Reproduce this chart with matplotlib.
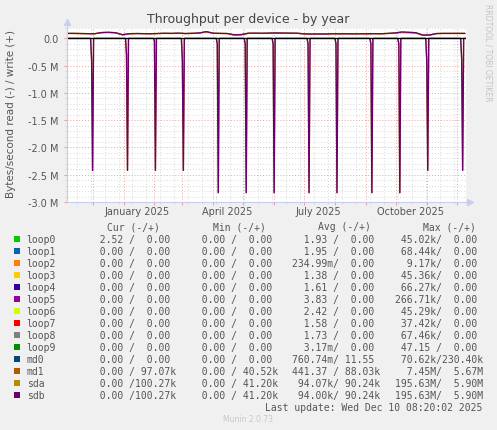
import pandas as pd
import matplotlib
matplotlib.use('Agg')
import matplotlib.pyplot as plt
import matplotlib.dates as mdates
import matplotlib.transforms as mtransforms
from matplotlib.patches import Rectangle
from matplotlib.ticker import MultipleLocator, FuncFormatter, FixedLocator, NullFormatter

W, H = 497, 431

t_start = pd.Timestamp('2024-11-05 08:20')
t_end = pd.Timestamp('2025-12-10 08:20')

# monthly raid-check read bursts on sda/sdb (bytes/s, daily average)
spike_dates = ['2024-12-01', '2025-01-05', '2025-02-02', '2025-03-02', '2025-04-06',
               '2025-05-04', '2025-06-01', '2025-07-06', '2025-08-03', '2025-09-07',
               '2025-10-05', '2025-11-02', '2025-12-07']
spike_depth = [2.42e6, 2.42e6, 2.42e6, 2.42e6, 2.83e6, 2.83e6, 2.83e6,
               2.83e6, 2.83e6, 2.83e6, 2.83e6, 2.42e6, 2.42e6]
spike_pre = [0.40e6, 0.30e6, 0.05e6, 0.40e6, 0.10e6, 0.10e6, 0.10e6,
             0.10e6, 0.10e6, 0.10e6, 0.10e6, 0.41e6, 0.38e6]

# weekly write throughput (kB/s)
write_weeks = pd.date_range('2024-11-05', periods=58, freq='7D')
sdb_write_k = [92, 92, 90, 88, 86, 108, 112, 105, 68, 86,
               90, 88, 86, 90, 94, 92, 96, 90, 93, 100,
               125, 95, 92, 90, 66, 70, 95, 96, 94, 97,
               100, 98, 96, 95, 84, 80, 82, 80, 86, 85,
               86, 84, 86, 85, 88, 86, 92, 100, 118, 112,
               105, 62, 64, 90, 92, 92, 92, 92]
md1_write_k = [90, 90, 88, 86, 84, 104, 108, 100, 64, 84,
               88, 86, 84, 88, 92, 90, 93, 88, 91, 97,
               118, 92, 90, 88, 60, 64, 92, 94, 92, 95,
               97, 95, 94, 93, 82, 78, 80, 78, 84, 83,
               84, 82, 84, 83, 86, 84, 89, 94, 108, 104,
               98, 56, 58, 88, 90, 90, 90, 90]

# legend table
dev_names = ['loop0', 'loop1', 'loop2', 'loop3', 'loop4', 'loop5', 'loop6',
             'loop7', 'loop8', 'loop9', 'md0', 'md1', 'sda', 'sdb']
dev_colors = ['#00CC00', '#0066B3', '#FF8000', '#FFCC00', '#330099', '#990099', '#CCFF00',
              '#FF0000', '#808080', '#008F00', '#00487D', '#B35A00', '#B38F00', '#6B006B']
cur_vals = [('2.52', '0.00'), ('0.00', '0.00'), ('0.00', '0.00'), ('0.00', '0.00'),
            ('0.00', '0.00'), ('0.00', '0.00'), ('0.00', '0.00'), ('0.00', '0.00'),
            ('0.00', '0.00'), ('0.00', '0.00'), ('0.00', '0.00'), ('0.00', '97.07k'),
            ('0.00', '100.27k'), ('0.00', '100.27k')]
min_vals = [('0.00', '0.00')] * 11 + [('0.00', '40.52k'), ('0.00', '41.20k'), ('0.00', '41.20k')]
avg_vals = [('1.93', '0.00'), ('1.95', '0.00'), ('234.99m', '0.00'), ('1.38', '0.00'),
            ('1.61', '0.00'), ('3.83', '0.00'), ('2.42', '0.00'), ('1.58', '0.00'),
            ('1.73', '0.00'), ('3.17m', '0.00'), ('760.74m', '11.55'), ('441.37', '88.03k'),
            ('94.07k', '90.24k'), ('94.00k', '90.24k')]
max_vals = [('45.02k', '0.00'), ('68.44k', '0.00'), ('9.17k', '0.00'), ('45.36k', '0.00'),
            ('66.27k', '0.00'), ('266.71k', '0.00'), ('45.29k', '0.00'), ('37.42k', '0.00'),
            ('67.46k', '0.00'), ('47.15', '0.00'), ('70.62k', '230.40k'), ('7.45M', '5.67M'),
            ('195.63M', '5.90M'), ('195.63M', '5.90M')]
last_update = 'Last update: Wed Dec 10 08:20:02 2025'

label_dates = ['2025-01-15', '2025-04-15', '2025-07-15', '2025-10-16']
label_texts = ['January 2025', 'April 2025', 'July 2025', 'October 2025']


def fx(x):
    return x / W


def fy(y):
    return 1 - y / H


def cell(s):
    unit = s[-1] if s[-1].isalpha() else ' '
    num = s[:-1] if unit != ' ' else s
    return num.rjust(6) + unit


TXT = '#555555'
MGRID = '#F2A0A0'
GRID = '#D8D8D8'
AXIS = '#C8CEF0'

fig = plt.figure(figsize=(W / 100, H / 100), dpi=100, facecolor='#F0F0F0')
ax = fig.add_axes([fx(67), fy(203), fx(466) - fx(67), fy(28.5) - fy(203)])
ax.set_facecolor('white')

# read (negative) series
rd_t = [t_start]
rd_v = [0.0]
for d, depth, pre in zip(spike_dates, spike_depth, spike_pre):
    d = pd.Timestamp(d)
    rd_t += [d - pd.Timedelta(days=2), d - pd.Timedelta(days=1), d, d + pd.Timedelta(days=1)]
    rd_v += [0.0, -pre, -depth, 0.0]
rd_t.append(t_end)
rd_v.append(0.0)

ax.plot(rd_t, rd_v, color='#B38F00', lw=0.9, zorder=3)
ax.plot(rd_t, rd_v, color='#6B006B', lw=1.0, zorder=4)

ax.plot(write_weeks, [v * 1000 for v in md1_write_k], color='#B35A00', lw=0.9, zorder=3)
ax.plot(write_weeks, [v * 1000 for v in sdb_write_k], color='#B38F00', lw=0.9, zorder=3)
ax.plot(write_weeks, [v * 1000 for v in sdb_write_k], color='#6B006B', lw=0.9, zorder=4)
ax.axhline(0, color='black', lw=0.9, zorder=5)

ax.set_xlim(t_start, t_end)
ax.set_ylim(-3.0e6, 0.2e6)

ax.yaxis.set_major_locator(MultipleLocator(0.5e6))
ax.yaxis.set_minor_locator(MultipleLocator(0.1e6))
ax.yaxis.set_major_formatter(FuncFormatter(lambda v, p: '0.0' if abs(v) < 1 else '%.1f M' % (v / 1e6)))
ax.xaxis.set_major_locator(mdates.MonthLocator())
ax.xaxis.set_minor_locator(FixedLocator(mdates.date2num(pd.date_range('2024-11-01', '2025-12-31', freq='14D'))))
ax.xaxis.set_major_formatter(NullFormatter())

ax.grid(True, which='minor', color=GRID, lw=0.7, ls=(0, (1, 2)), zorder=1)
ax.grid(True, which='major', color=MGRID, lw=0.7, ls=(0, (1, 2)), zorder=2)
ax.set_axisbelow(True)

ax.tick_params(axis='y', which='major', length=2, color=MGRID, labelsize=7, labelcolor=TXT, pad=4)
ax.tick_params(axis='y', which='minor', length=1.5, color=GRID)
ax.tick_params(axis='x', which='major', length=2, color=MGRID)
ax.tick_params(axis='x', which='minor', length=1.5, color=GRID)

for s in ['top', 'right']:
    ax.spines[s].set_visible(False)
for s in ['left', 'bottom']:
    ax.spines[s].set_color(AXIS)
    ax.spines[s].set_linewidth(0.8)

# axis arrows
ft = fig.transFigure
fig.lines.append(plt.Line2D([fx(67), fx(67)], [fy(203), fy(24)], color=AXIS, lw=0.8, transform=ft))
fig.lines.append(plt.Line2D([fx(466), fx(468)], [fy(203), fy(203)], color=AXIS, lw=0.8, transform=ft))
fig.lines.append(plt.Line2D([fx(67)], [fy(23)], marker='^', ms=4, color=AXIS, mec=AXIS, transform=ft))
fig.lines.append(plt.Line2D([fx(470)], [fy(203)], marker='>', ms=4, color=AXIS, mec=AXIS, transform=ft))

trans = mtransforms.blended_transform_factory(ax.transData, fig.transFigure)
for d, lab in zip(label_dates, label_texts):
    ax.text(mdates.date2num(pd.Timestamp(d)), fy(212.5), lab, transform=trans,
            ha='center', va='center', fontsize=7, color=TXT)

fig.text(fx(248), fy(19), 'Throughput per device - by year', ha='center', va='center',
         fontsize=9, color='#444444')
fig.text(fx(11.5), fy(114), 'Bytes/second read (-) / write (+)', rotation=90,
         ha='center', va='center', fontsize=7.5, color=TXT)
fig.text(fx(488), fy(53), 'RRDTOOL / TOBI OETIKER', rotation=270, ha='center', va='center',
         fontsize=5.5, color='#C4C4C4')
fig.text(fx(248), fy(420), 'Munin 2.0.73', ha='center', va='center', fontsize=5.5, color='#C8C8C8')

# legend table
mono = dict(family='DejaVu Sans Mono', fontsize=7, color=TXT, va='center')
col_x = [87.5, 189.5, 292.5, 395]
head_x = [107.3, 212.7, 317.7, 422.7]
for hx, h in zip(head_x, ['Cur (-/+)', 'Min (-/+)', 'Avg (-/+)', 'Max (-/+)']):
    fig.text(fx(hx), fy(227.3), h, ha='left', **mono)

for i, name in enumerate(dev_names):
    y = 240 + i * 11.98
    fig.patches.append(Rectangle((fx(14), fy(y + 3)), fx(6), 6 / H, transform=ft,
                                 facecolor=dev_colors[i], edgecolor='none'))
    fig.text(fx(26.7), fy(y), name, ha='left', **mono)
    for cx, vals in zip(col_x, [cur_vals, min_vals, avg_vals, max_vals]):
        r, w = vals[i]
        fig.text(fx(cx), fy(y), cell(r) + '/' + cell(w), ha='left', **mono)

fig.text(fx(482), fy(407.7), last_update, ha='right', **mono)

fig.savefig('out.png', dpi=100, facecolor=fig.get_facecolor())
